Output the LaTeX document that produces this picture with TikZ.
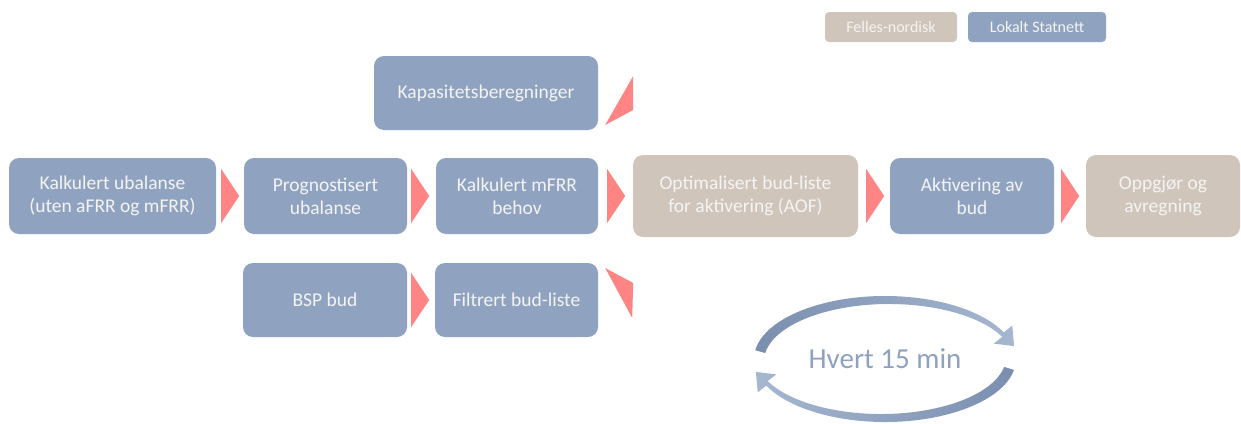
\documentclass[tikz,border=0pt]{standalone}
\usepackage{fontspec}
\setmainfont{Carlito}
\usetikzlibrary{calc}
\definecolor{boxblue}{HTML}{8FA3C1}
\definecolor{boxbeige}{HTML}{CFC5BA}
\definecolor{chevc}{HTML}{FF8585}
\definecolor{cyclec}{HTML}{8EA2C0}
\definecolor{cycdark}{HTML}{7A8EAF}
\definecolor{cyclight}{HTML}{A6B7D0}
\definecolor{txtc}{HTML}{F4F4F4}
\tikzset{
  boxbase/.style={rounded corners=10pt, inner sep=0pt, align=center, text=txtc,
    font=\fontsize{19.5}{23}\selectfont},
  bluebox/.style={boxbase, fill=boxblue},
  beigebox/.style={boxbase, fill=boxbeige},
  legbox/.style={rounded corners=4pt, inner sep=0pt, align=center, text=txtc,
    font=\fontsize{16}{19}\selectfont, minimum height=30pt},
  chev/.pic={\fill[chevc] (0,-27) -- (18,0) -- (0,27) -- cycle;}
}
\begin{document}
\begin{tikzpicture}[x=1pt,y=-1pt]
\useasboundingbox (0,0) rectangle (1241,423);
% legend
\node[legbox, fill=boxbeige, minimum width=132pt] (leg1) at (891,27) {Felles-nordisk};
\node[legbox, fill=boxblue, minimum width=138pt] (leg2) at (1037,27) {Lokalt Statnett};
% boxes
\node[bluebox, minimum width=224pt, minimum height=74pt] (kap) at (486,93) {Kapasitetsberegninger};
\node[bluebox, minimum width=207pt, minimum height=76pt] (k1) at (112.5,196) {Kalkulert ubalanse\\(uten aFRR og mFRR)};
\node[bluebox, minimum width=163pt, minimum height=76pt] (prog) at (325.5,196) {Prognostisert\\ubalanse};
\node[bluebox, minimum width=162pt, minimum height=76pt] (mfrr) at (517,196) {Kalkulert mFRR\\behov};
\node[beigebox, minimum width=225pt, minimum height=82pt] (opt) at (745.5,196) {Optimalisert bud-liste\\for aktivering (AOF)};
\node[bluebox, minimum width=164pt, minimum height=76pt] (akt) at (972,196) {Aktivering av\\bud};
\node[beigebox, minimum width=154pt, minimum height=82pt] (opp) at (1163,196) {Oppgjør og\\avregning};
\node[bluebox, minimum width=164pt, minimum height=74pt] (bsp) at (325,300) {BSP bud};
\node[bluebox, minimum width=163pt, minimum height=74pt] (filt) at (516.5,300) {Filtrert bud-liste};
% chevrons
\pic at ($(k1.east)+(5,0)$) {chev};
\pic at ($(prog.east)+(4,0)$) {chev};
\pic at ($(mfrr.east)+(9,0)$) {chev};
\pic at ($(opt.east)+(8,0)$) {chev};
\pic at ($(akt.east)+(7,0)$) {chev};
\pic at ($(bsp.east)+(4,0)$) {chev};
% slanted chevrons
\fill[chevc] ($(kap.east)+(35,-17)$) -- ($(kap.east)+(35,17)$) -- ($(kap.east)+(7,32)$) -- cycle;
\fill[chevc] ($(filt.east)+(7,-32)$) -- ($(filt.east)+(35,-17)$) -- ($(filt.east)+(34,18)$) -- cycle;
% cycle
\node[text=cyclec, font=\fontsize{29}{33}\selectfont] (cyc) at (885,359) {Hvert 15 min};
\shade[left color=cycdark, right color=cyclight]
  ($(cyc)+({131*cos(-172)},{63*sin(-172)})$)
  arc[start angle=-172, end angle=-25, x radius=131, y radius=63]
  -- ($(cyc)+(127.3,-33.4)$) -- ($(cyc)+(129.1,-12.9)$) -- ($(cyc)+(108.7,-15.4)$)
  -- ($(cyc)+(4,2)+({125*cos(-25)},{57*sin(-25)})$)
  arc[start angle=-25, end angle=-172, x radius=125, y radius=57] -- cycle;
\shade[left color=cyclight, right color=cycdark]
  ($(cyc)+({131*cos(10)},{63*sin(10)})$)
  arc[start angle=10, end angle=155, x radius=131, y radius=63]
  -- ($(cyc)+(-127.3,33.4)$) -- ($(cyc)+(-129.1,12.9)$) -- ($(cyc)+(-108.7,15.4)$)
  -- ($(cyc)+(-4,-2)+({125*cos(155)},{57*sin(155)})$)
  arc[start angle=155, end angle=10, x radius=125, y radius=57] -- cycle;
\end{tikzpicture}
\end{document}
